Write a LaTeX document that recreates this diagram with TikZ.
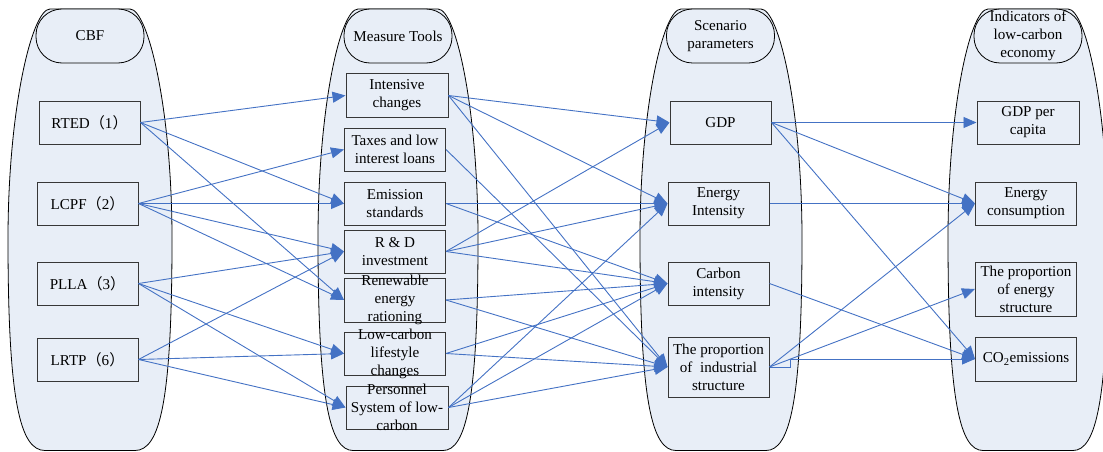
\documentclass[tikz,border=0pt]{standalone}
\usepackage{fontspec}
\setmainfont{Liberation Serif}
\newfontfamily\cjk{Noto Sans CJK SC}
\usetikzlibrary{arrows.meta}
\definecolor{fillb}{RGB}{232,238,247}
\definecolor{lineb}{RGB}{68,114,196}
\definecolor{boxgray}{RGB}{55,55,55}
\begin{document}
\begin{tikzpicture}[x=1pt,y=-1pt,
  container/.style={draw=black, fill=fillb, line width=0.8pt},
  header/.style={draw=black, fill=fillb, line width=0.8pt, rounded corners=26pt, minimum width=108pt, minimum height=54pt, inner sep=0pt},
  box/.style={draw=boxgray, fill=fillb, line width=1pt, minimum width=101pt, minimum height=43pt, inner sep=0pt},
  txt/.style={align=center, font=\fontsize{15.1}{18}\selectfont, inner sep=0pt},
  arr/.style={draw=lineb, line width=0.9pt, -{Triangle[length=13pt,width=11pt]}}
]
\useasboundingbox (0,0) rectangle (1103,452);
% containers
\foreach \cx/\w in {90/82, 398/80, 721/81, 1028/80} {
  \draw[container] (\cx-40,9) .. controls (\cx-58,9) and (\cx-\w,109) .. (\cx-\w,239)
    .. controls (\cx-\w,401) and (\cx-\w+12,450.5) .. (\cx-45,450.5) -- (\cx+45,450.5)
    .. controls (\cx+\w-12,450.5) and (\cx+\w,401) .. (\cx+\w,239)
    .. controls (\cx+\w,109) and (\cx+58,9) .. (\cx+40,9) -- cycle;
}
% headers
\node[header] (h1) at (90,36) {};
\node[txt] (h1t) at (h1) {CBF};
\node[header] (h2) at (398,36) {};
\node[txt] (h2t) at (h2) {Measure Tools};
\node[header] (h3) at (720.5,36) {};
\node[txt] (h3t) at (h3) {Scenario\\parameters};
\node[header] (h4) at (1028,36) {};
\node[txt] (h4t) at (h4) {Indicators of\\low-carbon\\economy};
% column 1
\node[box] (rted) at (89.5,122.5) {};
\node[txt] (rtedt) at (rted) {RTED{\cjk（}1{\cjk）}};
\node[box] (lcpf) at (87.5,203.5) {};
\node[txt] (lcpft) at (lcpf) {LCPF{\cjk（}2{\cjk）}};
\node[box] (plla) at (87.5,283.5) {};
\node[txt] (pllat) at (plla) {PLLA{\cjk（}3{\cjk）}};
\node[box] (lrtp) at (87.5,359.5) {};
\node[txt] (lrtpt) at (lrtp) {LRTP{\cjk（}6{\cjk）}};
% column 2
\node[box, minimum width=102pt] (int) at (397,95.5) {};
\node[txt] (intt) at (int) {Intensive\\changes};
\node[box] (tax) at (395,149.5) {};
\node[txt] (taxt) at (tax) {Taxes and low\\interest loans};
\node[box] (emi) at (395,203.5) {};
\node[txt] (emit) at (emi) {Emission\\standards};
\node[box] (rd) at (395,251.5) {};
\node[txt] (rdt) at (rd) {R \& D\\investment};
\node[box, minimum height=44pt] (ren) at (395,300) {};
\node[txt] (rent) at (ren) {Renewable\\energy\\rationing};
\node[box] (low) at (395,353.5) {};
\node[txt] (lowt) at (low) {Low-carbon\\lifestyle\\changes};
\node[box, minimum width=102pt] (per) at (397,407.5) {};
\node[txt] (pert) at (per) {Personnel\\System of low-\\carbon};
% column 3
\node[box] (gdp) at (720.5,122.5) {};
\node[txt] (gdpt) at (gdp) {GDP};
\node[box] (ei) at (718.5,203.5) {};
\node[txt] (eit) at (ei) {Energy\\Intensity};
\node[box] (ci) at (718.5,283.5) {};
\node[txt] (cit) at (ci) {Carbon\\intensity};
\node[box, minimum height=60pt] (ind) at (718.5,367) {};
\node[txt] (indt) at (ind) {The proportion\\of\ \ industrial\\structure};
% column 4
\node[box, minimum width=102pt] (gpc) at (1028,122.5) {};
\node[txt] (gpct) at (gpc) {GDP per\\capita};
\node[box] (ec) at (1026,203.5) {};
\node[txt] (ect) at (ec) {Energy\\consumption};
\node[box, minimum height=54pt] (pes) at (1026,289) {};
\node[txt] (pest) at (pes) {The proportion\\of energy\\structure};
\node[box, minimum height=44pt] (co2) at (1026,359) {};
\node[txt] (co2t) at (co2) {CO\textsubscript{2}emissions};
% connectors
\foreach \a/\b in {rted/int, rted/emi, rted/ren, lcpf/tax, lcpf/emi, lcpf/rd, lcpf/ren,
  plla/rd, plla/low, plla/per, lrtp/rd, lrtp/low, lrtp/per,
  int/gdp, int/ei, int/ind, tax/ind, emi/ei, emi/ci, rd/gdp, rd/ei, rd/ci,
  ren/ci, ren/ind, low/ci, low/ind, per/ei, per/ci, per/ind,
  gdp/gpc, gdp/ec, gdp/co2, ei/ec, ci/co2, ind/ec, ind/pes} {
  \draw[arr] (\a.east) -- (\b.west);
}
\coordinate (jog) at ([xshift=21pt]ind.east);
\draw[arr] (ind.east) -- (jog) |- (co2.west);
\end{tikzpicture}
\end{document}
